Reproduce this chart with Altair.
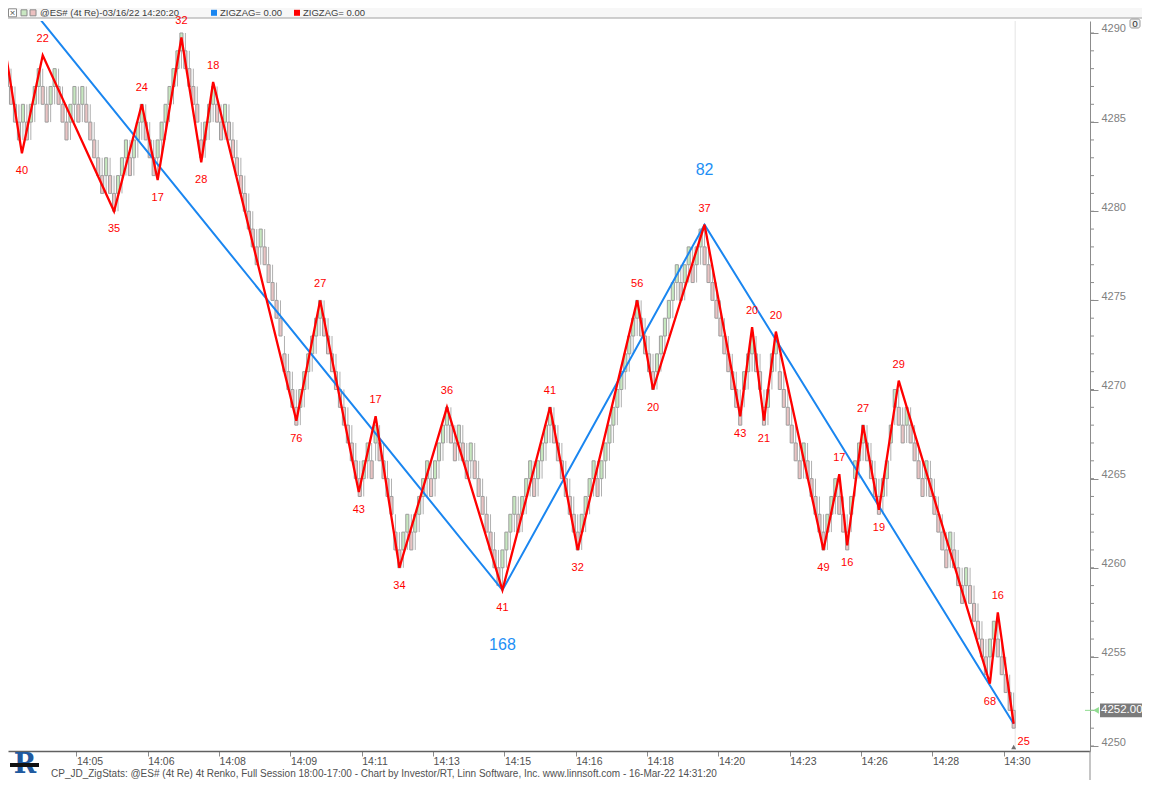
import altair as alt
import pandas as pd

# ---------------- data ----------------
# Renko boxes (1-point boxes): lower edge of each box, one entry per bar
box_lows = [
    4287, 4286, 4285, 4284, 4285, 4284, 4285, 4286, 4287, 4286,
    4285, 4286, 4287, 4286, 4285, 4284, 4285, 4286, 4285, 4286,
    4285, 4284, 4283, 4282, 4281, 4282, 4281, 4280, 4281, 4282,
    4283, 4282, 4283, 4284, 4285, 4284, 4283, 4282, 4283, 4284,
    4285, 4286, 4287, 4288, 4289, 4288, 4287, 4286, 4285, 4283,
    4284, 4285, 4286, 4285, 4284, 4285, 4284, 4283, 4282, 4281,
    4280, 4279, 4278, 4277, 4278, 4277, 4276, 4275, 4274, 4273,
    4271, 4270, 4269, 4268, 4269, 4270, 4271, 4272, 4273, 4274,
    4273, 4272, 4271, 4270, 4269, 4268, 4267, 4266, 4265, 4264,
    4265, 4266, 4265, 4267, 4266, 4265, 4264, 4263, 4261, 4260,
    4261, 4262, 4261, 4262, 4263, 4264, 4265, 4264, 4265, 4266,
    4267, 4268, 4267, 4266, 4267, 4266, 4265, 4266, 4265, 4264,
    4263, 4262, 4261, 4260, 4259, 4260, 4261, 4262, 4263, 4262,
    4263, 4264, 4265, 4264, 4265, 4266, 4267, 4268, 4267, 4266,
    4265, 4264, 4263, 4262, 4261, 4262, 4263, 4264, 4265, 4264,
    4265, 4266, 4267, 4268, 4269, 4270, 4271, 4272, 4273, 4274,
    4273, 4272, 4271, 4270, 4271, 4272, 4273, 4274, 4275, 4276,
    4275, 4276, 4277, 4276, 4277, 4278, 4277, 4276, 4275, 4274,
    4273, 4272, 4271, 4270, 4269, 4268, 4270, 4271, 4272, 4271,
    4270, 4268, 4269, 4271, 4272, 4270, 4269, 4268, 4267, 4266,
    4265, 4266, 4265, 4264, 4263, 4262, 4261, 4262, 4263, 4264,
    4263, 4262, 4261, 4263, 4265, 4266, 4267, 4266, 4265, 4264,
    4263, 4264, 4265, 4267, 4269, 4268, 4267, 4268, 4267, 4266,
    4265, 4264, 4265, 4264, 4263, 4262, 4261, 4260, 4261, 4260,
    4259, 4258, 4259, 4258, 4257, 4256, 4255, 4254, 4255, 4256,
    4255, 4254, 4253, 4252, 4251,
]

# Minor zigzag (red): bar position, price, label
red_idx = [-0.5, 3.75, 9, 27, 34, 38, 44, 49, 52, 73, 79, 88.75, 93, 99, 111,
           125, 137, 144, 159, 163, 176, 185, 188, 191, 194, 206, 210, 212,
           216, 220, 225, 248, 250, 254]
red_price = [4289.1, 4283.25, 4288.75, 4280.0, 4286.0, 4281.75, 4289.75,
             4282.75, 4287.25, 4268.25, 4275.0, 4264.25, 4268.5, 4260.0,
             4269.0, 4258.75, 4269.0, 4261.0, 4275.0, 4270.0, 4279.25,
             4268.5, 4273.5, 4268.25, 4273.25, 4261.0, 4265.25, 4261.25,
             4268.0, 4263.25, 4270.5, 4253.5, 4257.5, 4251.25]
red_label = ["", "40", "22", "35", "24", "17", "32", "28", "18", "76", "27",
             "43", "17", "34", "36", "41", "41", "32", "56", "20", "37", "43",
             "20", "21", "20", "49", "17", "16", "27", "19", "29", "68", "16",
             "25"]

# Major zigzag (blue)
blue_idx = [-0.5, 125, 176, 254]
blue_price = [4293.2, 4258.75, 4279.25, 4251.25]
blue_label = ["", "168", "82", ""]

# Time axis
time_tick_idx = [17.5, 35.5, 53.5, 71.5, 89.5, 107.5, 125.5, 143.5, 161.5,
                 179.5, 197.5, 215.5, 233.5, 251.5]
time_labels = ["14:05", "14:06", "14:08", "14:09", "14:11", "14:13", "14:15",
               "14:16", "14:18", "14:20", "14:23", "14:26", "14:28", "14:30"]

price_ticks = [4250, 4255, 4260, 4265, 4270, 4275, 4280, 4285, 4290]
last_price = 4252.00

header_title = "@ES# (4t Re)-03/16/22 14:20:20"
legend_text = "ZIGZAG= 0.00"
footer_text = ("CP_JD_ZigStats: @ES# (4t Re) 4t Renko, Full Session 18:00-17:00 - "
               "Chart by Investor/RT, Linn Software, Inc. www.linnsoft.com - 16-Mar-22 14:31:20")

# ---------------- tables ----------------
n = len(box_lows)
bars = pd.DataFrame({"idx": list(range(n)), "lo": box_lows})
bars["hi"] = bars["lo"] + 1
prev = bars["lo"].shift(1)
bars["up"] = (bars["lo"] > prev).fillna(False)
bars["wlo"] = bars["lo"].where(~bars["up"], bars["lo"] - 1)
bars["whi"] = bars["hi"].where(bars["up"], bars["hi"] + 1)

red = pd.DataFrame({"idx": red_idx, "price": red_price, "label": red_label})
kinds = [""]
for i in range(1, len(red_price)):
    kinds.append("H" if red_price[i] > red_price[i - 1] else "L")
red["kind"] = kinds
red["last"] = [False] * (len(red) - 1) + [True]

blue = pd.DataFrame({"idx": blue_idx, "price": blue_price, "label": blue_label})
minor = pd.DataFrame({"p": list(range(min(price_ticks), max(price_ticks) + 1))})
one = pd.DataFrame({"a": [0]})

FONT = "Liberation Sans"
RED = "#ff0000"
BLUE = "#1a86f0"

xs = alt.Scale(domain=[1.5, 272], nice=False, zero=False)
ys = alt.Scale(domain=[4249.72, 4290.673], nice=False, zero=False)

label_expr = ("[" + ",".join(f"'{t}'" for t in time_labels) + "][indexof(["
              + ",".join(str(v) for v in time_tick_idx) + "], datum.value)]")

x_axis = alt.Axis(values=time_tick_idx, labelExpr=label_expr, title=None,
                  orient="bottom", tickSize=5, tickColor="#8c8c8c",
                  domainColor="#606060", domainWidth=1.5, labelColor="#505050",
                  labelFont=FONT, labelFontSize=10.5, labelAlign="left",
                  labelBaseline="middle", labelPadding=5, labelFlush=False,
                  labelOverlap=False, labelBound=False, grid=False)
y_axis = alt.Axis(values=price_ticks, orient="right", tickSize=8,
                  tickColor="#8c8c8c", domainColor="#8c8c8c",
                  labelColor="#808080", labelFont=FONT, labelFontSize=11,
                  labelAlign="left", labelBaseline="middle", labelOffset=-4,
                  labelPadding=3, title=None, grid=False, format="d",
                  labelFlush=False, labelOverlap=False, labelBound=False)


def X(f):
    return alt.X(f, type="quantitative", scale=xs, axis=x_axis)


def Y(f):
    return alt.Y(f, type="quantitative", scale=ys, axis=y_axis)


RIGHT = 1134   # right edge of the drawing, in view pixels (page x 1142)
HY = -8.2      # header text line, in view pixels

layers = []

# cursor line at the last bar
layers.append(alt.Chart(one).mark_rule(color="#e4e4e4", strokeWidth=1, xOffset=1.5).encode(
    x=alt.datum(n - 1, type="quantitative", scale=xs, axis=x_axis),
    y=alt.value(0), y2=alt.value(730)))

# renko wicks and boxes
layers.append(alt.Chart(bars).mark_rule(color="#b0b0b0", strokeWidth=1).encode(
    x=X("idx"), y=Y("wlo"), y2="whi"))
layers.append(alt.Chart(bars).mark_bar(size=3.1, stroke="#9e9e9e", strokeWidth=1).encode(
    x=X("idx"), y=Y("lo"), y2="hi",
    fill=alt.condition("datum.up", alt.value("#c6e8bf"), alt.value("#eac3c3"))))

# zigzag lines
layers.append(alt.Chart(blue).mark_line(color=BLUE, strokeWidth=2, clip=True).encode(
    x=X("idx"), y=Y("price")))
layers.append(alt.Chart(red).mark_line(color=RED, strokeWidth=2.3, clip=True).encode(
    x=X("idx"), y=Y("price")))

# header bar (x in view pixels = page pixels - 8)
layers.append(alt.Chart(one).mark_rect(fill="#f7f7f7").encode(
    x=alt.value(0), x2=alt.value(RIGHT), y=alt.value(-13), y2=alt.value(-3)))
layers.append(alt.Chart(one).mark_rule(color="#a0a0a0", strokeWidth=1).encode(
    x=alt.value(0), x2=alt.value(RIGHT), y=alt.value(-3)))
layers.append(alt.Chart(one).mark_rect(fill="#ffffff", stroke="#8a8a8a", strokeWidth=1).encode(
    x=alt.value(0.5), x2=alt.value(8.5), y=alt.value(-12.2), y2=alt.value(-4.2)))
layers.append(alt.Chart(one).mark_text(text="×", font=FONT, fontSize=9.5, color="#505050").encode(
    x=alt.value(4.5), y=alt.value(HY)))
layers.append(alt.Chart(one).mark_rect(fill="#c9e7c2", stroke="#8a8a8a", strokeWidth=1).encode(
    x=alt.value(13), x2=alt.value(19), y=alt.value(-11.2), y2=alt.value(-5.2)))
layers.append(alt.Chart(one).mark_rect(fill="#ebc0c0", stroke="#8a8a8a", strokeWidth=1).encode(
    x=alt.value(22), x2=alt.value(28), y=alt.value(-11.2), y2=alt.value(-5.2)))
layers.append(alt.Chart(one).mark_text(text=header_title, font=FONT, fontSize=9.5, color="#404040",
                                        align="left", baseline="middle").encode(
    x=alt.value(32), y=alt.value(HY)))
layers.append(alt.Chart(one).mark_rect(fill=BLUE).encode(
    x=alt.value(203), x2=alt.value(209), y=alt.value(-11.2), y2=alt.value(-5.2)))
layers.append(alt.Chart(one).mark_text(text=legend_text, font=FONT, fontSize=9.5, color="#404040",
                                        align="left", baseline="middle").encode(
    x=alt.value(212), y=alt.value(HY)))
layers.append(alt.Chart(one).mark_rect(fill=RED).encode(
    x=alt.value(286), x2=alt.value(292), y=alt.value(-11.2), y2=alt.value(-5.2)))
layers.append(alt.Chart(one).mark_text(text=legend_text, font=FONT, fontSize=9.5, color="#404040",
                                        align="left", baseline="middle").encode(
    x=alt.value(295), y=alt.value(HY)))
layers.append(alt.Chart(one).mark_rect(fill="#f0f0f0", stroke="#9a9a9a", strokeWidth=1,
                                        cornerRadius=2).encode(
    x=alt.value(1122), x2=alt.value(1132), y=alt.value(-2), y2=alt.value(7)))
layers.append(alt.Chart(one).mark_text(text="o", font=FONT, fontSize=10, color="#303030").encode(
    x=alt.value(1127), y=alt.value(2.5)))

# pivot labels
layers.append(alt.Chart(red).transform_filter("datum.kind == 'H'").mark_text(
    font=FONT, fontSize=11, color=RED, dy=-16, baseline="middle").encode(
    x=X("idx"), y=Y("price"), text="label"))
layers.append(alt.Chart(red).transform_filter("datum.kind == 'L' && !datum.last").mark_text(
    font=FONT, fontSize=11, color=RED, dy=18, baseline="middle").encode(
    x=X("idx"), y=Y("price"), text="label"))
layers.append(alt.Chart(red).transform_filter("datum.last").mark_text(
    font=FONT, fontSize=11, color=RED, dy=18, dx=10, baseline="middle").encode(
    x=X("idx"), y=Y("price"), text="label"))
layers.append(alt.Chart(blue).transform_filter("datum.label == '168'").mark_text(
    font=FONT, fontSize=16, color="#1e8ff5", dy=55, baseline="middle").encode(
    x=X("idx"), y=Y("price"), text="label"))
layers.append(alt.Chart(blue).transform_filter("datum.label == '82'").mark_text(
    font=FONT, fontSize=16, color="#1e8ff5", dy=-55, baseline="middle").encode(
    x=X("idx"), y=Y("price"), text="label"))

# minor price ticks on the right axis
layers.append(alt.Chart(minor).mark_rule(color="#8c8c8c", strokeWidth=1).encode(
    x=alt.value(1082), x2=alt.value(1086), y=Y("p")))
# right axis line continues through the time-axis strip
layers.append(alt.Chart(one).mark_rule(color="#8c8c8c", strokeWidth=1).encode(
    x=alt.value(1082), y=alt.value(730), y2=alt.value(759)))

# last-price tag
layers.append(alt.Chart(one).mark_rect(fill="#7b7b7b").encode(
    x=alt.value(1092), x2=alt.value(RIGHT),
    y=alt.datum(last_price - 0.39, type="quantitative", scale=ys, axis=y_axis),
    y2=alt.datum(last_price + 0.39)))
layers.append(alt.Chart(one).mark_text(text=f"{last_price:.2f}", font=FONT, fontSize=11.5,
                                        color="#ffffff", align="left", baseline="middle").encode(
    x=alt.value(1093), y=alt.datum(last_price, type="quantitative", scale=ys, axis=y_axis)))
layers.append(alt.Chart(one).mark_point(shape="triangle-left", filled=True, color="#8fdc8f",
                                         size=45, opacity=1).encode(
    x=alt.value(1088), y=alt.datum(last_price, type="quantitative", scale=ys, axis=y_axis)))
layers.append(alt.Chart(one).mark_rule(color="#8fdc8f", strokeWidth=1).encode(
    x=alt.value(1077), x2=alt.value(1085),
    y=alt.datum(last_price, type="quantitative", scale=ys, axis=y_axis)))

# current-bar marker under the axis
layers.append(alt.Chart(one).mark_point(shape="triangle-up", filled=True, color="#6f6f6f",
                                         size=25, opacity=1).encode(
    x=alt.datum(n - 1, type="quantitative", scale=xs, axis=x_axis), y=alt.value(726)))

# footer and logo
layers.append(alt.Chart(one).mark_text(text=footer_text, font=FONT, fontSize=10, color="#505050",
                                        align="left", baseline="middle").encode(
    x=alt.value(43), y=alt.value(753)))
layers.append(alt.Chart(one).mark_text(text="R", font="DejaVu Serif", fontSize=27, fontWeight="bold",
                                        color="#1f5aa0", baseline="middle").encode(
    x=alt.value(17), y=alt.value(744)))
layers.append(alt.Chart(one).mark_rect(fill="#111111").encode(
    x=alt.value(2), x2=alt.value(31), y=alt.value(742), y2=alt.value(746)))

chart = alt.layer(*layers).properties(
    width=1082, height=730,
    padding={"left": 0, "top": 13, "right": 52, "bottom": 29},
    autosize=alt.AutoSizeParams(type="none"),
    background="#ffffff",
).configure_view(strokeWidth=0)

chart.save("out.html", embed_options={"renderer": "svg", "actions": False})
